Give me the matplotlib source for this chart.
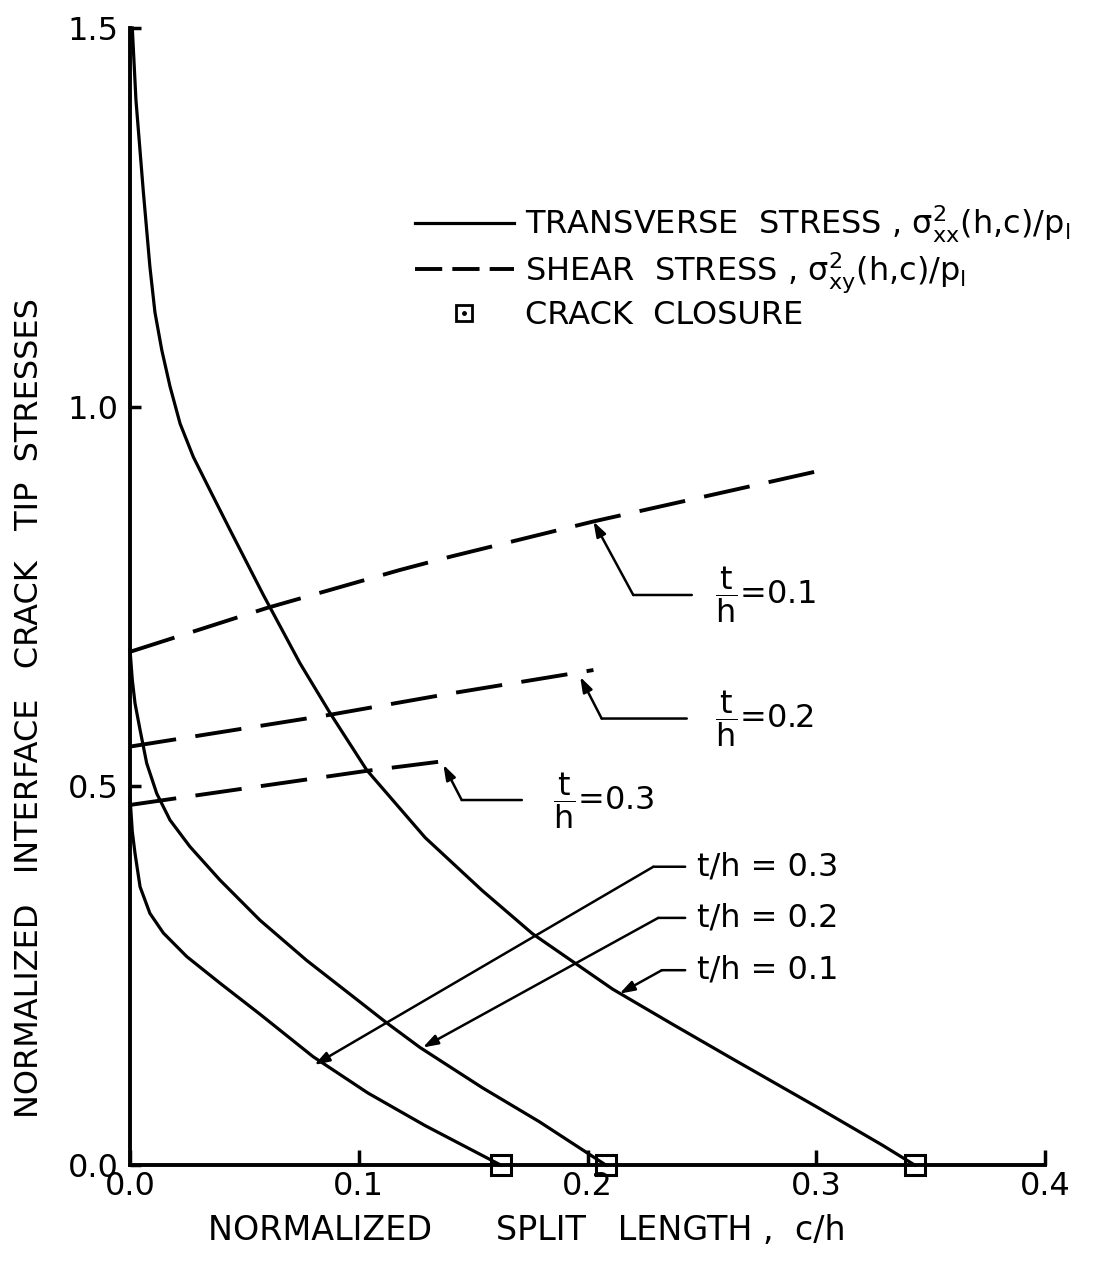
import matplotlib
matplotlib.use("Agg")
import matplotlib.pyplot as plt
from matplotlib.lines import Line2D

plt.rcParams["font.family"] = ["DejaVu Sans"]
plt.rcParams["mathtext.fontset"] = "dejavusans"
plt.rcParams["mathtext.default"] = "regular"

# transverse stress, solid curves (c/h, stress)
c_t01 = [0.001, 0.0026, 0.0058, 0.0087, 0.0109, 0.0139, 0.0175, 0.0219, 0.0277,
         0.035, 0.0437, 0.0583, 0.0743, 0.0875, 0.1035, 0.129, 0.154, 0.176, 0.211,
         0.237, 0.264, 0.300, 0.329, 0.343]
s_t01 = [1.5, 1.405, 1.285, 1.185, 1.125, 1.075, 1.027, 0.978, 0.934,
         0.890, 0.838, 0.752, 0.662, 0.596, 0.521, 0.432, 0.362, 0.305, 0.232,
         0.186, 0.139, 0.077, 0.026, 0.0]
c_t02 = [0, 0.001, 0.0022, 0.0044, 0.0073, 0.0117, 0.0175, 0.0262, 0.0393, 0.0568,
         0.0772, 0.0976, 0.112, 0.1268, 0.154, 0.179, 0.208]
s_t02 = [0.68, 0.64, 0.609, 0.574, 0.530, 0.490, 0.455, 0.420, 0.376, 0.323,
         0.270, 0.222, 0.188, 0.155, 0.102, 0.057, 0.0]
c_t03 = [0, 0.001, 0.0022, 0.0044, 0.0087, 0.0146, 0.0248, 0.0393, 0.0568, 0.080,
         0.104, 0.129, 0.162]
s_t03 = [0.485, 0.44, 0.411, 0.367, 0.332, 0.306, 0.275, 0.240, 0.199, 0.143,
         0.095, 0.052, 0.0]

# shear stress, dashed lines
c_s01 = [0, 0.06, 0.118, 0.14, 0.2026, 0.306]
s_s01 = [0.677, 0.735, 0.785, 0.8025, 0.849, 0.919]
c_s02 = [0, 0.0875, 0.14, 0.2026]
s_s02 = [0.552, 0.594, 0.622, 0.653]
c_s03 = [0, 0.1035, 0.143]
s_s03 = [0.475, 0.52, 0.535]

# crack closure points
c_closure = [0.162, 0.208, 0.343]
s_closure = [0.0, 0.0, 0.0]

x_ticks = [0.0, 0.1, 0.2, 0.3, 0.4]
y_ticks = [0.0, 0.5, 1.0, 1.5]

FS = 23
LW = 2.3
fig = plt.figure(figsize=(11.03, 12.61), dpi=100)
ax = fig.add_axes([130 / 1103, 96 / 1261, 915 / 1103, 1137 / 1261])

for c, s in [(c_t01, s_t01), (c_t02, s_t02), (c_t03, s_t03)]:
    ax.plot(c, s, color="black", lw=LW, solid_joinstyle="round", clip_on=False)
for c, s in [(c_s01, s_s01), (c_s02, s_s02), (c_s03, s_s03)]:
    ax.plot(c, s, color="black", lw=2.8, dashes=(12, 5), dash_capstyle="butt")
ax.plot(c_closure, s_closure, ls="none", marker="s", ms=15, mfc="none",
        mec="black", mew=2.2, clip_on=False, zorder=5)

ax.set_xlim(0, 0.4)
ax.set_ylim(0, 1.5)
ax.set_xticks(x_ticks)
ax.set_yticks(y_ticks)
ax.set_xticklabels([f"{v:.1f}" for v in x_ticks])
ax.set_yticklabels([f"{v:.1f}" for v in y_ticks])
ax.tick_params(direction="in", width=2.5, labelsize=FS)
ax.tick_params(axis="x", length=11, pad=4)
ax.tick_params(axis="y", length=8, pad=8)
for side in ["top", "right"]:
    ax.spines[side].set_visible(False)
for side in ["left", "bottom"]:
    ax.spines[side].set_linewidth(2.8)

ax.set_xlabel("NORMALIZED      SPLIT   LENGTH ,  c/h", fontsize=24)
ax.xaxis.set_label_coords(0.434, -0.043)
ax.set_ylabel("NORMALIZED   INTERFACE   CRACK   TIP  STRESSES", fontsize=FS)
ax.yaxis.set_label_coords(-0.093, 0.402)

# legend
h_solid = Line2D([], [], color="black", lw=LW)
h_dash = Line2D([], [], color="black", lw=2.8, dashes=(7, 2.6))
h_sq = (Line2D([], [], ls="none", marker="s", ms=12, mfc="none", mec="black", mew=2),
        Line2D([], [], ls="none", marker=".", ms=5, color="black"))
ax.legend([h_solid, h_dash, h_sq],
          [r"TRANSVERSE  STRESS , $\sigma^{2}_{xx}$(h,c)/p$_{l}$",
           r"SHEAR  STRESS , $\sigma^{2}_{xy}$(h,c)/p$_{l}$",
           "CRACK  CLOSURE"],
          loc="upper left", bbox_to_anchor=(0.311, 0.8455), frameon=False,
          fontsize=FS, handlelength=3.1, handletextpad=0.35, borderpad=0,
          borderaxespad=0, labelspacing=0.15)

arrow = dict(arrowstyle="-|>,head_length=0.9,head_width=0.3", color="black",
             lw=1.8, shrinkA=0, shrinkB=0)
plain = dict(arrowstyle="-", color="black", lw=1.8, shrinkA=0, shrinkB=0)

# labels on the dashed lines: (tip, elbow, line end, fraction x, text)
dashed_labels = [
    ((0.2026, 0.849), (0.220, 0.752), 0.2456, 0.2558, "0.1"),
    ((0.1968, 0.644), (0.2062, 0.589), 0.2434, 0.2558, "0.2"),
    ((0.137, 0.528), (0.145, 0.4815), 0.1713, 0.185, "0.3"),
]
for tip, elbow, xend, xfrac, val in dashed_labels:
    ax.annotate("", xy=tip, xytext=elbow, arrowprops=arrow)
    ax.annotate("", xy=elbow, xytext=(xend, elbow[1]), arrowprops=plain)
    ax.text(xfrac, elbow[1], r"$\dfrac{t}{h}$" + f"={val}",
            fontsize=FS, ha="left", va="center")

# labels on the solid curves
solid_labels = [
    ((0.0806, 0.132), (0.2288, 0.3935), "0.3"),
    ((0.128, 0.155), (0.2309, 0.326), "0.2"),
    ((0.214, 0.226), (0.2325, 0.257), "0.1"),
]
for tip, elbow, val in solid_labels:
    ax.annotate("", xy=tip, xytext=elbow, arrowprops=arrow)
    ax.annotate("", xy=elbow, xytext=(0.2427, elbow[1]), arrowprops=plain)
    ax.text(0.2478, elbow[1], f"t/h = {val}", fontsize=FS, ha="left", va="center")

fig.savefig("out.png", dpi=100)
